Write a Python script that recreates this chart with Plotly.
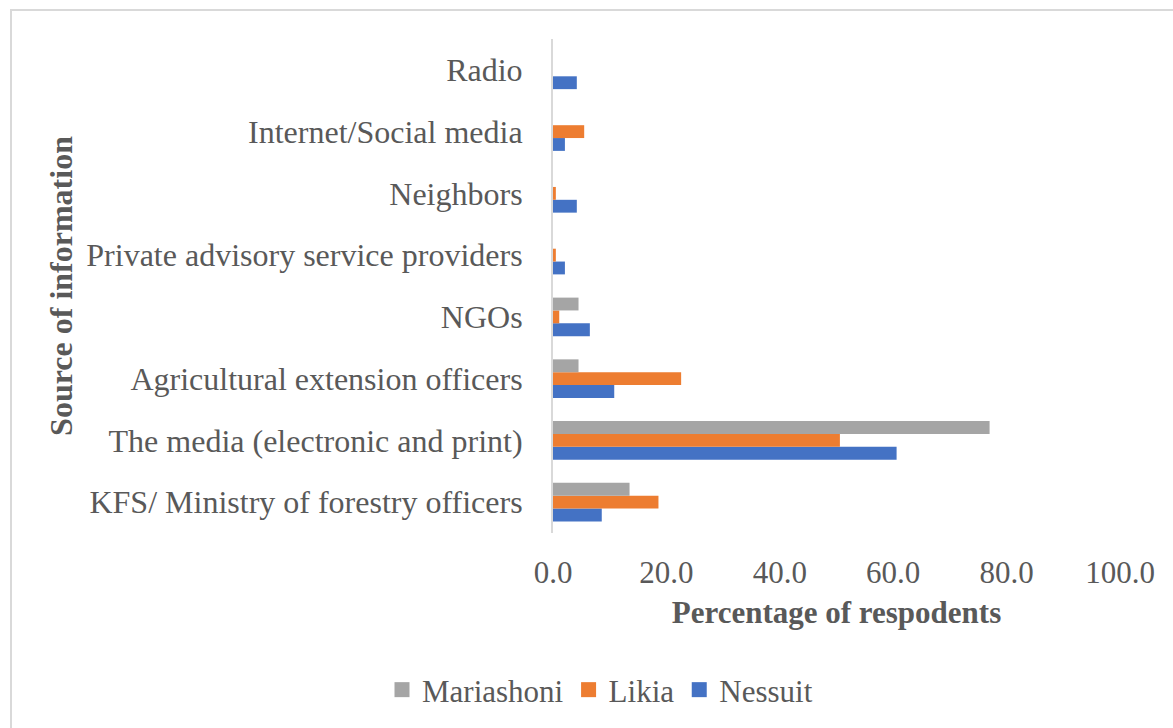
import plotly.graph_objects as go

# Sources of information, bottom to top
sources = [
    "KFS/ Ministry of forestry officers",
    "The media (electronic and print)",
    "Agricultural extension officers",
    "NGOs",
    "Private advisory service providers",
    "Neighbors",
    "Internet/Social media",
    "Radio",
]

# Percentage of respondents per site
nessuit = [8.6, 60.6, 10.8, 6.5, 2.1, 4.2, 2.1, 4.2]
likia = [18.6, 50.6, 22.6, 1.1, 0.5, 0.5, 5.5, 0.0]
mariashoni = [13.5, 77.0, 4.5, 4.5, 0.0, 0.0, 0.0, 0.0]

x_ticks = [0, 20, 40, 60, 80, 100]
x_tick_labels = ["0.0", "20.0", "40.0", "60.0", "80.0", "100.0"]

W, H = 1173, 728
L, R, T, B = 553, 53, 39, 195
TXT = "#595959"
FONT = "Liberation Serif"

series = [
    ("Nessuit", nessuit, "#4472C4"),
    ("Likia", likia, "#ED7D31"),
    ("Mariashoni", mariashoni, "#A5A5A5"),
]

fig = go.Figure()
for name, vals, col in series:
    fig.add_trace(go.Bar(
        y=sources, x=vals, name=name, orientation="h",
        marker=dict(color=col, line=dict(width=0)),
        showlegend=False, legendgroup=name,
    ))

# legend keys drawn as square markers
for name, vals, col in reversed(series):
    fig.add_trace(go.Scatter(
        x=[None], y=[None], mode="markers", name=name, legendgroup=name,
        marker=dict(symbol="square", size=15, color=col),
        hoverinfo="skip",
    ))

# outer chart border
pw, ph = W - L - R, H - T - B
fig.add_shape(
    type="rect", xref="paper", yref="paper",
    x0=(11 - L) / pw, x1=(W + 10 - L) / pw,
    y0=-(H + 10 - T - ph) / ph, y1=1 + (T - 10) / ph,
    line=dict(color="#D9D9D9", width=2), fillcolor="rgba(0,0,0,0)",
    layer="below",
)

fig.update_layout(
    width=W, height=H,
    margin=dict(l=L, r=R, t=T, b=B),
    paper_bgcolor="white", plot_bgcolor="white",
    barmode="group", bargap=0.376, bargroupgap=0,
    font=dict(family=FONT, size=31, color=TXT),
    showlegend=True,
    legend=dict(
        orientation="h", traceorder="normal",
        xref="container", x=600 / W, xanchor="center",
        yref="container", y=1 - 690 / H, yanchor="middle",
        font=dict(family=FONT, size=31, color=TXT),
        itemwidth=30,
    ),
    xaxis=dict(
        range=[0, 100], tickvals=x_ticks, ticktext=x_tick_labels,
        showgrid=False, zeroline=False, showline=False,
        ticks="", tickfont=dict(family=FONT, size=31, color=TXT),
        ticklabelstandoff=18,
        title=dict(text="<b>Percentage of respodents</b>",
                   font=dict(family=FONT, size=31, color=TXT), standoff=12),
        fixedrange=True,
    ),
    yaxis=dict(
        type="category", categoryorder="array", categoryarray=sources,
        showgrid=False, zeroline=False,
        showline=True, linecolor="#D9D9D9", linewidth=2,
        ticks="", tickfont=dict(family=FONT, size=32, color=TXT),
        ticklabelstandoff=22,
        title=dict(text="<b>Source of information</b>",
                   font=dict(family=FONT, size=32, color=TXT), standoff=4),
        fixedrange=True,
    ),
)

fig.write_html("out.html")
